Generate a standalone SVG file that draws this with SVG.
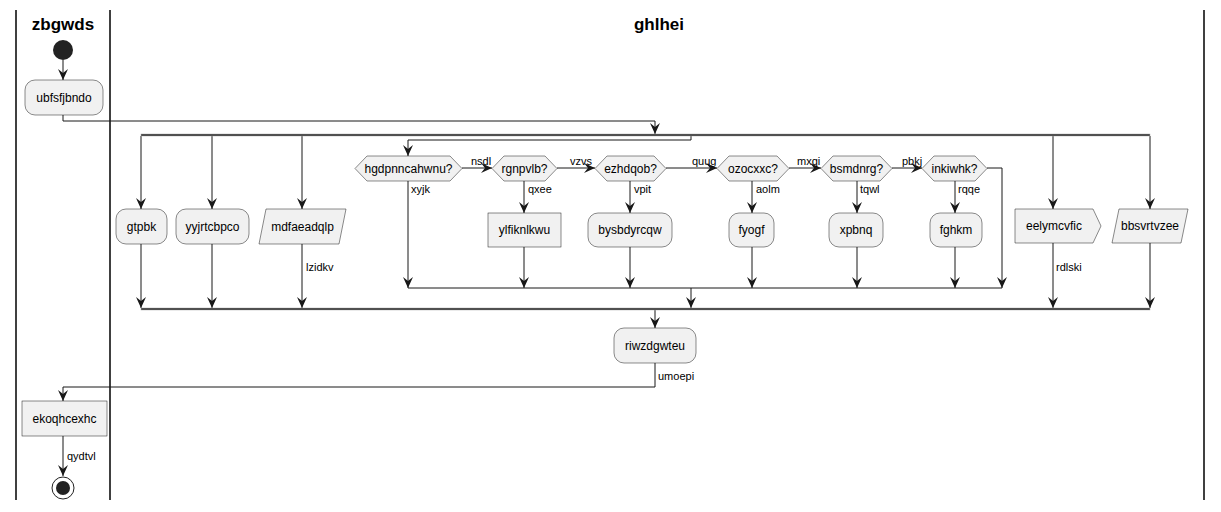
<svg xmlns="http://www.w3.org/2000/svg" width="1221" height="512" viewBox="0 0 1221 512">
<style>
text{font-family:"Liberation Sans",Arial,sans-serif;fill:#000}
.n{font-size:12px;text-anchor:middle}
.l{font-size:11px}
.h{font-size:17px;font-weight:bold;text-anchor:middle}
.box{fill:#F1F1F1;stroke:#181818;stroke-width:0.5}
.c{fill:none;stroke:#181818;stroke-width:1}
.lane{stroke:#000;stroke-width:1.5}
.bar{fill:#333;stroke:#aaa;stroke-width:0.5}
</style>
<defs>
<marker id="a" viewBox="0 0 11 10" refX="11" refY="5" markerWidth="11" markerHeight="10" markerUnits="userSpaceOnUse" orient="auto">
<polygon points="0,0 11,5 0,10 4,5" fill="#181818"/>
</marker>
</defs>
<g id="lanes">
<line class="lane" x1="16" y1="10" x2="16" y2="500"/>
<line class="lane" x1="110" y1="10" x2="110" y2="500"/>
<line class="lane" x1="1204" y1="10" x2="1204" y2="500"/>
<text class="h" x="63" y="30">zbgwds</text>
<text class="h" x="659" y="30">ghlhei</text>
</g>
<g id="connectors">
<path class="c" d="M63,60 V80" marker-end="url(#a)"/>
<path class="c" d="M63,115 V121 H655 V134" marker-end="url(#a)"/>
<path class="c" d="M141,136 V209" marker-end="url(#a)"/>
<path class="c" d="M212,136 V209" marker-end="url(#a)"/>
<path class="c" d="M302,136 V209" marker-end="url(#a)"/>
<path class="c" d="M1053,136 V209" marker-end="url(#a)"/>
<path class="c" d="M1150,136 V209" marker-end="url(#a)"/>
<path class="c" d="M691,136 V140 H408 V156" marker-end="url(#a)"/>
<path class="c" d="M141,244 V308" marker-end="url(#a)"/>
<path class="c" d="M212,244 V308" marker-end="url(#a)"/>
<path class="c" d="M302,244 V308" marker-end="url(#a)"/>
<path class="c" d="M1053,243 V308" marker-end="url(#a)"/>
<path class="c" d="M1150,243 V308" marker-end="url(#a)"/>
<path class="c" d="M462,168 H492" marker-end="url(#a)"/>
<path class="c" d="M557,168 H595" marker-end="url(#a)"/>
<path class="c" d="M666,168 H717" marker-end="url(#a)"/>
<path class="c" d="M789,168 H821" marker-end="url(#a)"/>
<path class="c" d="M892,168 H922" marker-end="url(#a)"/>
<path class="c" d="M408,181 V288" marker-end="url(#a)"/>
<path class="c" d="M524,181 V213" marker-end="url(#a)"/>
<path class="c" d="M630,181 V213" marker-end="url(#a)"/>
<path class="c" d="M752,181 V213" marker-end="url(#a)"/>
<path class="c" d="M857,181 V213" marker-end="url(#a)"/>
<path class="c" d="M955,181 V213" marker-end="url(#a)"/>
<path class="c" d="M524,247 V288" marker-end="url(#a)"/>
<path class="c" d="M630,247 V288" marker-end="url(#a)"/>
<path class="c" d="M752,247 V288" marker-end="url(#a)"/>
<path class="c" d="M857,247 V288" marker-end="url(#a)"/>
<path class="c" d="M955,247 V288" marker-end="url(#a)"/>
<path class="c" d="M987,168 H1002 V288" marker-end="url(#a)"/>
<path class="c" d="M408,288 H1002"/>
<path class="c" d="M691,288 V308" marker-end="url(#a)"/>
<path class="c" d="M655,310 V328" marker-end="url(#a)"/>
<path class="c" d="M655,363 V387 H63 V401" marker-end="url(#a)"/>
<path class="c" d="M63,436 V476" marker-end="url(#a)"/>
<text class="l" x="471" y="165">nsdl</text>
<text class="l" x="570" y="165">vzvs</text>
<text class="l" x="692" y="165">quug</text>
<text class="l" x="797" y="165">mxqi</text>
<text class="l" x="902" y="165">pbkj</text>
<text class="l" x="411" y="193">xyjk</text>
<text class="l" x="528" y="193">qxee</text>
<text class="l" x="634" y="193">vpit</text>
<text class="l" x="756" y="193">aolm</text>
<text class="l" x="860" y="193">tqwl</text>
<text class="l" x="958" y="193">rqqe</text>
<text class="l" x="306" y="271">lzidkv</text>
<text class="l" x="1056" y="271">rdlski</text>
<text class="l" x="658" y="380">umoepi</text>
<text class="l" x="67" y="460">qydtvl</text>
</g>
<g id="bars">
<rect class="bar" x="141" y="134" width="1009" height="2"/>
<rect class="bar" x="141" y="308" width="1009" height="2"/>
</g>
<g id="start"><circle cx="63" cy="50" r="10" fill="#222"/></g>
<g id="ubfsfjbndo"><rect class="box" x="25" y="80" width="78" height="35" rx="10"/><text class="n" x="64" y="102">ubfsfjbndo</text></g>
<g id="gtpbk"><rect class="box" x="116" y="209" width="51" height="35" rx="10"/><text class="n" x="141.5" y="231">gtpbk</text></g>
<g id="yyjrtcbpco"><rect class="box" x="176" y="209" width="73" height="35" rx="10"/><text class="n" x="212.5" y="231">yyjrtcbpco</text></g>
<g id="mdfaeadqlp"><polygon class="box" points="266,209 346,209 339,244 259,244"/><text class="n" x="302.5" y="231">mdfaeadqlp</text></g>
<g id="hgdpnncahwnu"><polygon class="box" points="355,168.5 367,156 450,156 462,168.5 450,181 367,181"/><text class="n" x="408.5" y="173">hgdpnncahwnu?</text></g>
<g id="rgnpvlb"><polygon class="box" points="492,168.5 504,156 545,156 557,168.5 545,181 504,181"/><text class="n" x="524.5" y="173">rgnpvlb?</text></g>
<g id="ezhdqob"><polygon class="box" points="595,168.5 607,156 654,156 666,168.5 654,181 607,181"/><text class="n" x="630.5" y="173">ezhdqob?</text></g>
<g id="ozocxxc"><polygon class="box" points="717,168.5 729,156 777,156 789,168.5 777,181 729,181"/><text class="n" x="753" y="173">ozocxxc?</text></g>
<g id="bsmdnrg"><polygon class="box" points="821,168.5 833,156 880,156 892,168.5 880,181 833,181"/><text class="n" x="856.5" y="173">bsmdnrg?</text></g>
<g id="inkiwhk"><polygon class="box" points="922,168.5 934,156 975,156 987,168.5 975,181 934,181"/><text class="n" x="954.5" y="173">inkiwhk?</text></g>
<g id="ylfiknlkwu"><rect class="box" x="488" y="213" width="73" height="34"/><text class="n" x="524.5" y="234">ylfiknlkwu</text></g>
<g id="bysbdyrcqw"><rect class="box" x="588" y="213" width="84" height="34" rx="10"/><text class="n" x="630" y="234">bysbdyrcqw</text></g>
<g id="fyogf"><rect class="box" x="729" y="213" width="45" height="34" rx="10"/><text class="n" x="751.5" y="234">fyogf</text></g>
<g id="xpbnq"><rect class="box" x="829" y="213" width="54" height="34" rx="10"/><text class="n" x="856" y="234">xpbnq</text></g>
<g id="fghkm"><rect class="box" x="930" y="213" width="52" height="34" rx="10"/><text class="n" x="956" y="234">fghkm</text></g>
<g id="eelymcvfic"><polygon class="box" points="1015,209 1093,209 1101,226 1093,243 1015,243"/><text class="n" x="1054" y="230">eelymcvfic</text></g>
<g id="bbsvrtvzee"><polygon class="box" points="1119,209 1188,209 1181,243 1112,243"/><text class="n" x="1150" y="230">bbsvrtvzee</text></g>
<g id="riwzdgwteu"><rect class="box" x="614" y="328" width="82" height="35" rx="10"/><text class="n" x="655" y="350">riwzdgwteu</text></g>
<g id="ekoqhcexhc"><rect class="box" x="22" y="401" width="85" height="35"/><text class="n" x="64.5" y="423">ekoqhcexhc</text></g>
<g id="end"><circle cx="63" cy="488" r="11" fill="#fff" stroke="#222" stroke-width="1"/><circle cx="63" cy="488" r="7" fill="#222"/></g>
</svg>
